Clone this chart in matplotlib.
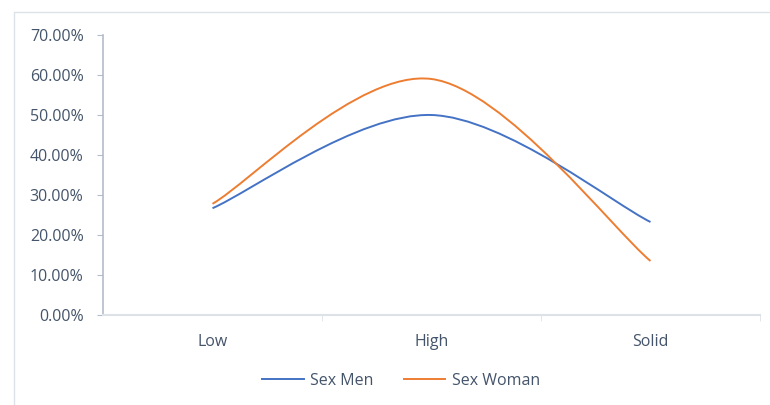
import numpy as np
import matplotlib.pyplot as plt
from matplotlib.path import Path
from matplotlib.patches import PathPatch, Rectangle
from matplotlib.lines import Line2D
from matplotlib.ticker import FuncFormatter

# data
categories = ['Low', 'High', 'Solid']
sex_men = [26.7, 50.0, 23.25]
sex_woman = [27.8, 59.0, 13.5]

blue = '#4472C4'
orange = '#ED7D31'
txt = '#44546a'

plt.rcParams['font.family'] = ['Open Sans', 'DejaVu Sans']


def smooth_path(xs, ys):
    # bezier smoothing like office "smoothed line"
    pts = np.column_stack([xs, ys]).astype(float)
    n = len(pts)
    verts = [pts[0]]
    codes = [Path.MOVETO]
    for i in range(n - 1):
        p0 = pts[max(i - 1, 0)]
        p1 = pts[i]
        p2 = pts[i + 1]
        p3 = pts[min(i + 2, n - 1)]
        c1 = p1 + (p2 - p0) / 6
        c2 = p2 - (p3 - p1) / 6
        verts += [c1, c2, p2]
        codes += [Path.CURVE4] * 3
    return Path(verts, codes)


fig = plt.figure(figsize=(7.7, 4.05), dpi=100)
ax = fig.add_axes([103 / 770, 1 - 315 / 405, 657 / 770, 280 / 405])

x = np.arange(len(categories))
for vals, col in [(sex_men, blue), (sex_woman, orange)]:
    ax.add_patch(PathPatch(smooth_path(x, vals), facecolor='none',
                           edgecolor=col, lw=1.4, capstyle='butt'))

ax.set_xlim(-0.5, 2.5)
ax.set_ylim(0, 70)
ax.set_yticks(np.arange(0, 71, 10))
ax.yaxis.set_major_formatter(FuncFormatter(lambda v, p: f'{v:.2f}%'))
ax.set_xticks(x)
ax.set_xticklabels(categories)
ax.set_xticks([0.5, 1.5, 2.5], minor=True)

for s in ['top', 'right']:
    ax.spines[s].set_visible(False)
ax.spines['left'].set_color('#b4bccb')
ax.spines['bottom'].set_color('#dde1e8')
ax.spines['left'].set_linewidth(1.2)
ax.spines['bottom'].set_linewidth(1.5)

ax.tick_params(axis='y', length=4, color='#b4bccb', labelsize=11.5,
               labelcolor=txt, pad=10)
ax.tick_params(axis='x', which='major', length=0, labelsize=11.5,
               labelcolor=txt, pad=14)
ax.tick_params(axis='x', which='minor', length=4, color='#dde1e8')

# chart area border
fig.patches.append(Rectangle((14 / 770, -0.1), 1.0, 1 - 12 / 405 + 0.1,
                             transform=fig.transFigure, fill=False,
                             edgecolor='#dde1e8', lw=1.0))

handles = [Line2D([], [], color=blue, lw=1.4), Line2D([], [], color=orange, lw=1.4)]
fig.legend(handles, ['Sex Men', 'Sex Woman'], loc='center',
           bbox_to_anchor=(401 / 770, 1 - 381 / 405), ncol=2, frameon=False,
           fontsize=11.5, labelcolor=txt, handlelength=2.6, handletextpad=0.4,
           columnspacing=1.9)

fig.savefig('out.png', dpi=100)
